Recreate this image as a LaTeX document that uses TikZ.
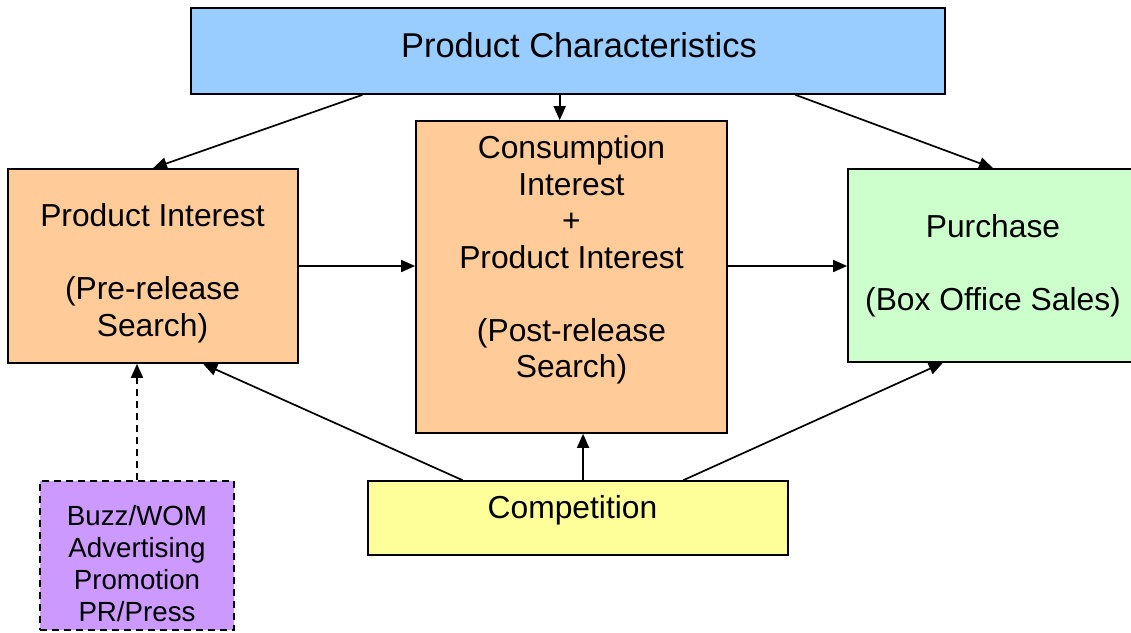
\documentclass[tikz,border=0pt]{standalone}
\usepackage{fontspec}
\setmainfont{Liberation Sans}
\usetikzlibrary{arrows.meta,calc}
\definecolor{cblue}{HTML}{99CCFF}
\definecolor{corange}{HTML}{FFCC99}
\definecolor{cgreen}{HTML}{CCFFCC}
\definecolor{cyellow}{HTML}{FFFF99}
\definecolor{cpurple}{HTML}{CC99FF}
\begin{document}
\begin{tikzpicture}[x=1pt,y=-1pt,
  box/.style={draw=black,line width=1.7pt,rectangle,inner sep=0pt},
  txt/.style={inner sep=0pt,align=center,anchor=north,font=\fontsize{31.8}{36.5}\selectfont},
  arr/.style={line width=1.7pt,-{Triangle[length=14pt,width=12pt]}},
  dsh/.style={dash pattern=on 7pt off 5pt}]
\useasboundingbox (0,0) rectangle (1131,632);
% boxes
\node[box,fill=cblue,minimum width=754pt,minimum height=86pt] (pc) at (568,51) {};
\node[box,fill=corange,minimum width=290pt,minimum height=194pt] (pi) at (153,266) {};
\node[box,fill=corange,minimum width=311pt,minimum height=312pt] (ci) at (571.5,277) {};
\node[box,fill=cgreen,minimum width=290pt,minimum height=193pt] (pu) at (993,265.5) {};
\node[box,fill=cyellow,minimum width=420pt,minimum height=74pt] (co) at (578,518) {};
\node[box,dsh,fill=cpurple,minimum width=194pt,minimum height=149pt] (bz) at (137,555.5) {};
% texts
\node[txt,font=\fontsize{34.4}{40}\selectfont] (pcT) at (579,32.5) {Product Characteristics};
\node[txt] (piT) at (152.5,203.5) {Product Interest\\[36.5pt](Pre-release\\Search)};
\node[txt] (ciT) at (571.5,135.5) {Consumption\\Interest\\+\\Product Interest\\[36.5pt](Post-release\\Search)};
\node[txt] (puT) at (993,214.5) {Purchase\\[36.5pt](Box Office Sales)};
\node[txt] (coT) at (572.5,495.5) {Competition};
\node[txt,font=\fontsize{27.7}{32}\selectfont] (bzT) at (137,505) {Buzz/WOM\\Advertising\\Promotion\\PR/Press};
% anchor points
\coordinate (pcA) at ($(pc.south west)!0.228!(pc.south east)$);
\coordinate (pcB) at ($(pc.south west)!0.489!(pc.south east)$);
\coordinate (pcC) at ($(pc.south west)!0.801!(pc.south east)$);
\coordinate (coA) at ($(co.north west)!0.226!(co.north east)$);
\coordinate (coB) at ($(co.north west)!0.512!(co.north east)$);
\coordinate (coC) at ($(co.north west)!0.75!(co.north east)$);
\coordinate (piB) at ($(pi.south west)!0.672!(pi.south east)$);
\coordinate (puB) at ($(pu.south west)!0.328!(pu.south east)$);
% connectors
\draw[arr] (pcA) -- (pi.north);
\draw[arr] (pcB) -- (pcB |- ci.north);
\draw[arr] (pcC) -- (pu.north);
\draw[arr] (pi.east) -- (pi.east -| ci.west);
\draw[arr] (pi.east -| ci.east) -- (pi.east -| pu.west);
\draw[arr] (coA) -- (piB);
\draw[arr] (coB) -- (coB |- ci.south);
\draw[arr] (coC) -- (puB);
\draw[arr,dsh] (bz.north) -- (bz.north |- pi.south);
\end{tikzpicture}
\end{document}
